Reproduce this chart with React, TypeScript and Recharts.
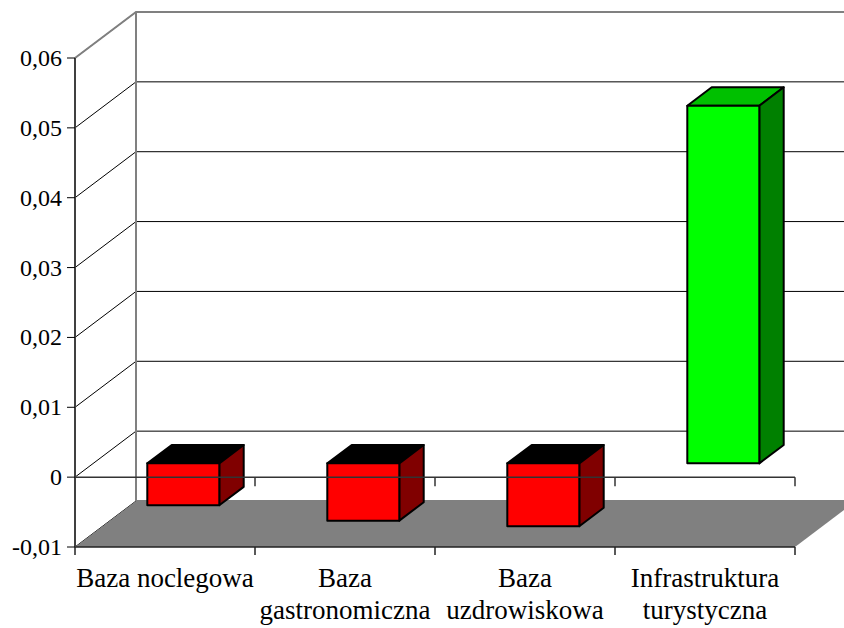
import React from 'react';
import { BarChart, Bar, XAxis, YAxis, CartesianGrid, ReferenceArea, ReferenceLine } from 'recharts';

const categories = ['Baza noclegowa', 'Baza gastronomiczna', 'Baza uzdrowiskowa', 'Infrastruktura turystyczna'];
const categoryLines = [['Baza noclegowa'], ['Baza', 'gastronomiczna'], ['Baza', 'uzdrowiskowa'], ['Infrastruktura', 'turystyczna']];
const values = [-0.006, -0.0082, -0.009, 0.0512];
const yTicks = [-0.01, 0, 0.01, 0.02, 0.03, 0.04, 0.05, 0.06];
const yTickLabels = ['-0,01', '0', '0,01', '0,02', '0,03', '0,04', '0,05', '0,06'];

const data = categories.map((name, i) => ({ name, value: values[i] }));

const DEPTH_X = 61;
const DEPTH_Y = -46;
const FRONT = 0.3;
const BAR_DEPTH = 0.4;
const FONT = 'Liberation Serif, Times New Roman, serif';

const NEG = { front: '#FF0000', side: '#800000', top: '#000000' };
const POS = { front: '#00FF00', side: '#008000', top: '#00C000' };

const Bar3D = (props: any) => {
  const { x, y, width, height, payload } = props;
  const top = Math.min(y, y + height);
  const h = Math.abs(height);
  const fx = x + FRONT * DEPTH_X;
  const fy = top + FRONT * DEPTH_Y;
  const dx = BAR_DEPTH * DEPTH_X;
  const dy = BAR_DEPTH * DEPTH_Y;
  const c = payload && payload.value < 0 ? NEG : POS;
  return (
    <g stroke="#000" strokeWidth={2} strokeLinejoin="round">
      <polygon points={`${fx},${fy} ${fx + dx},${fy + dy} ${fx + width + dx},${fy + dy} ${fx + width},${fy}`} fill={c.top} />
      <polygon points={`${fx + width},${fy} ${fx + width + dx},${fy + dy} ${fx + width + dx},${fy + h + dy} ${fx + width},${fy + h}`} fill={c.side} />
      <rect x={fx} y={fy} width={width} height={h} fill={c.front} />
    </g>
  );
};

const Walls = (props: any) => {
  const { x, y, width, height } = props;
  const bottom = y + height;
  return (
    <g>
      <polygon
        points={`${x},${bottom} ${x + width},${bottom} ${x + width + DEPTH_X},${bottom + DEPTH_Y} ${x + DEPTH_X},${bottom + DEPTH_Y}`}
        fill="#808080"
      />
      <polyline
        points={`${x},${y} ${x + DEPTH_X},${y + DEPTH_Y} ${x + width + DEPTH_X},${y + DEPTH_Y}`}
        fill="none"
        stroke="#808080"
        strokeWidth={2}
      />
      <line x1={x + DEPTH_X} y1={y + DEPTH_Y} x2={x + DEPTH_X} y2={bottom + DEPTH_Y} stroke="#808080" strokeWidth={2} />
    </g>
  );
};

const gridLine = (p: any) => {
  const { x1, y1, x2 } = p;
  return (
    <g key={p.key}>
      <line x1={x1} y1={y1} x2={x1 + DEPTH_X} y2={y1 + DEPTH_Y} stroke="#000" strokeWidth={1} />
      <line x1={x1 + DEPTH_X} y1={y1 + DEPTH_Y} x2={x2 + DEPTH_X} y2={y1 + DEPTH_Y} stroke="#000" strokeWidth={1} />
    </g>
  );
};

const ZeroAxis = (p: any) => {
  const { x1, y1, x2 } = p;
  const step = (x2 - x1) / categories.length;
  return (
    <g stroke="#333" strokeWidth={1.5}>
      <line x1={x1} y1={y1} x2={x2} y2={y1} />
      {categories.map((_, i) => (
        <line key={i} x1={x1 + step * (i + 1)} y1={y1} x2={x1 + step * (i + 1)} y2={y1 + 9} />
      ))}
    </g>
  );
};

const BottomAxis = (p: any) => {
  const { x1, y1, x2 } = p;
  const step = (x2 - x1) / categories.length;
  return (
    <g stroke="#222" strokeWidth={1.5}>
      <line x1={x1} y1={y1} x2={x2} y2={y1} />
      {[0, ...categories.map((_, i) => i + 1)].map((k) => (
        <line key={k} x1={x1 + step * k} y1={y1} x2={x1 + step * k} y2={y1 + 8} />
      ))}
    </g>
  );
};

const XTick = (p: any) => {
  const { x, y, payload } = p;
  const idx = categories.indexOf(payload.value);
  const lines = categoryLines[idx] || [payload.value];
  return (
    <g transform={`translate(${x},${y})`}>
      {lines.map((l, i) => (
        <text key={i} x={0} y={40 + i * 31.5} textAnchor="middle" fontFamily={FONT} fontSize={27} fill="#000">
          {l}
        </text>
      ))}
    </g>
  );
};

const YTick = (p: any) => {
  const { x, y, payload } = p;
  const i = yTicks.findIndex((t) => Math.abs(t - payload.value) < 1e-9);
  const label = i >= 0 ? yTickLabels[i] : String(payload.value);
  return (
    <text x={x} y={y} dy={8} textAnchor="end" fontFamily={FONT} fontSize={24} fill="#000">
      {label}
    </text>
  );
};

export default function App() {
  return (
    <div style={{ position: 'absolute', left: 0, top: 0, width: 844, height: 628, background: '#fff' }}>
      <BarChart
        width={844}
        height={628}
        data={data}
        margin={{ top: 58, right: 49, bottom: 0, left: 0 }}
        barCategoryGap="30%"
      >
        <CartesianGrid vertical={false} horizontal={gridLine} />
        <ReferenceArea y1={-0.01} y2={0.06} shape={<Walls />} zIndex={50} />
        <XAxis
          dataKey="name"
          height={81}
          axisLine={false}
          tickLine={false}
          tickSize={0}
          tickMargin={0}
          interval={0}
          tick={<XTick />}
        />
        <YAxis
          width={75}
          domain={[-0.01, 0.06]}
          ticks={yTicks}
          interval={0}
          tickSize={8}
          tickMargin={5}
          axisLine={{ stroke: '#404040', strokeWidth: 2 }}
          tickLine={{ stroke: '#000' }}
          tick={<YTick />}
        />
        <ReferenceLine y={-0.01} shape={<BottomAxis />} zIndex={60} />
        <Bar dataKey="value" isAnimationActive={false} shape={<Bar3D />} />
        <ReferenceLine y={0} shape={<ZeroAxis />} zIndex={600} />
      </BarChart>
    </div>
  );
}
